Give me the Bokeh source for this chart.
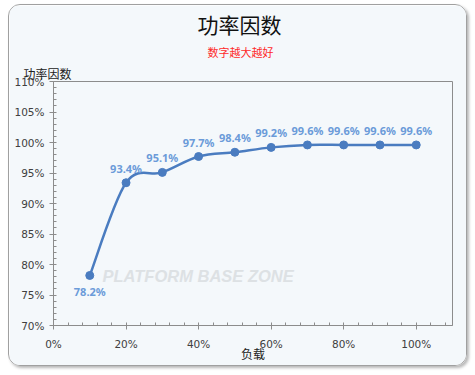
from bokeh.plotting import figure
from bokeh.models import (Range1d, SingleIntervalTicker, PrintfTickFormatter, Label,
                          ColumnDataSource, Title)
from bokeh.core.properties import value
from bokeh.embed import file_html
from bokeh.resources import INLINE

# ---- data ----
load_pct = [10, 20, 30, 40, 50, 60, 70, 80, 90, 100]
power_factor = [78.2, 93.4, 95.1, 97.7, 98.4, 99.2, 99.6, 99.6, 99.6, 99.6]
pf_labels = ["78.2%", "93.4%", "95.1%", "97.7%", "98.4%", "99.2%", "99.6%", "99.6%", "99.6%", "99.6%"]
title_text = "功率因数"
subtitle_text = "数字越大越好"
y_title = "功率因数"
x_title = "负载"

W, H = 459, 362
BG = "#f4f8fb"
LINE = "#4a7cc0"
LABEL = "#6b9bd9"
AX = "#8c8c8c"
CJK = "Noto Sans CJK SC"

p = figure(width=W, height=H, output_backend="svg", toolbar_location=None,
           x_range=Range1d(0, 110), y_range=Range1d(70, 110),
           min_border_left=44, min_border_right=16, min_border_top=76, min_border_bottom=42,
           styles={"border": "1px solid #a0a0a0", "border-radius": "12px",
                   "box-shadow": "2px 2px 3px #b8b8b8", "overflow": "hidden",
                   "margin": "4px 0 0 8px"})
p.background_fill_color = BG
p.border_fill_color = BG
p.outline_line_color = AX
p.outline_line_width = 1
p.xgrid.visible = False
p.ygrid.visible = False

for ax, interval in ((p.xaxis, 20), (p.yaxis, 5)):
    ax.ticker = SingleIntervalTicker(interval=interval, num_minor_ticks=5)
    ax.formatter = PrintfTickFormatter(format="%d%%")
    ax.axis_line_color = AX
    ax.major_tick_line_color = AX
    ax.minor_tick_line_color = AX
    ax.major_tick_out = 4
    ax.major_tick_in = 0
    ax.minor_tick_out = 0
    ax.minor_tick_in = 3
    ax.major_label_text_color = "#404040"
    ax.major_label_text_font = "DejaVu Sans"
    ax.major_label_text_font_size = "10.5px"
p.xaxis.major_label_standoff = 8
p.yaxis.major_label_standoff = 5
p.xaxis.axis_label = x_title
p.xaxis.axis_label_text_font = CJK
p.xaxis.axis_label_text_font_style = "normal"
p.xaxis.axis_label_text_font_size = "12px"
p.xaxis.axis_label_text_color = "#222222"
p.xaxis.axis_label_standoff = -8

# titles above the frame: nearest first
p.add_layout(Title(text=y_title, align="left", offset=-30, standoff=0,
                   text_font=CJK, text_font_size="12px", text_font_style="normal",
                   text_color="#222222"), "above")
p.add_layout(Title(text=subtitle_text, align="left", offset=154, standoff=6,
                   text_font=CJK, text_font_size="11px", text_font_style="normal",
                   text_color="#ff2a2a"), "above")
p.add_layout(Title(text=title_text, align="left", offset=144, standoff=0,
                   text_font=CJK, text_font_size="21px", text_font_style="normal",
                   text_color="#111111"), "above")

# watermark text
p.add_layout(Label(x=92, y=278, x_units="canvas", y_units="canvas",
                   text="PLATFORM BASE ZONE", text_font="Liberation Sans",
                   text_font_style="bold italic", text_font_size="16.5px",
                   text_color="#dde1e4", level="underlay"))

# smooth line via Catmull-Rom -> cubic Bezier
n = len(load_pct)
xs = [load_pct[0]] + load_pct + [load_pct[-1]]
ys = [power_factor[0]] + power_factor + [power_factor[-1]]
seg = dict(x0=[], y0=[], x1=[], y1=[], cx0=[], cy0=[], cx1=[], cy1=[])
for i in range(1, n):
    seg["x0"].append(xs[i]); seg["y0"].append(ys[i])
    seg["x1"].append(xs[i + 1]); seg["y1"].append(ys[i + 1])
    seg["cx0"].append(xs[i] + (xs[i + 1] - xs[i - 1]) / 6)
    seg["cy0"].append(ys[i] + (ys[i + 1] - ys[i - 1]) / 6)
    seg["cx1"].append(xs[i + 1] - (xs[i + 2] - xs[i]) / 6)
    seg["cy1"].append(ys[i + 1] - (ys[i + 2] - ys[i]) / 6)
p.bezier(x0="x0", y0="y0", x1="x1", y1="y1", cx0="cx0", cy0="cy0", cx1="cx1", cy1="cy1",
         source=ColumnDataSource(seg), line_color=LINE, line_width=2.5)

src = ColumnDataSource(dict(x=load_pct, y=power_factor, t=pf_labels,
                            off=[9] + [-7] * (n - 1),
                            base=["top"] + ["bottom"] * (n - 1)))
p.scatter("x", "y", source=src, size=8, fill_color=LINE, line_color=LINE)
p.text("x", "y", text="t", source=src, y_offset="off", text_baseline="base",
       text_align="center", text_color=LABEL, text_font=value("Noto Sans"),
       text_font_style="bold", text_font_size="11px")

open("out.html", "w").write(file_html(p, INLINE))
